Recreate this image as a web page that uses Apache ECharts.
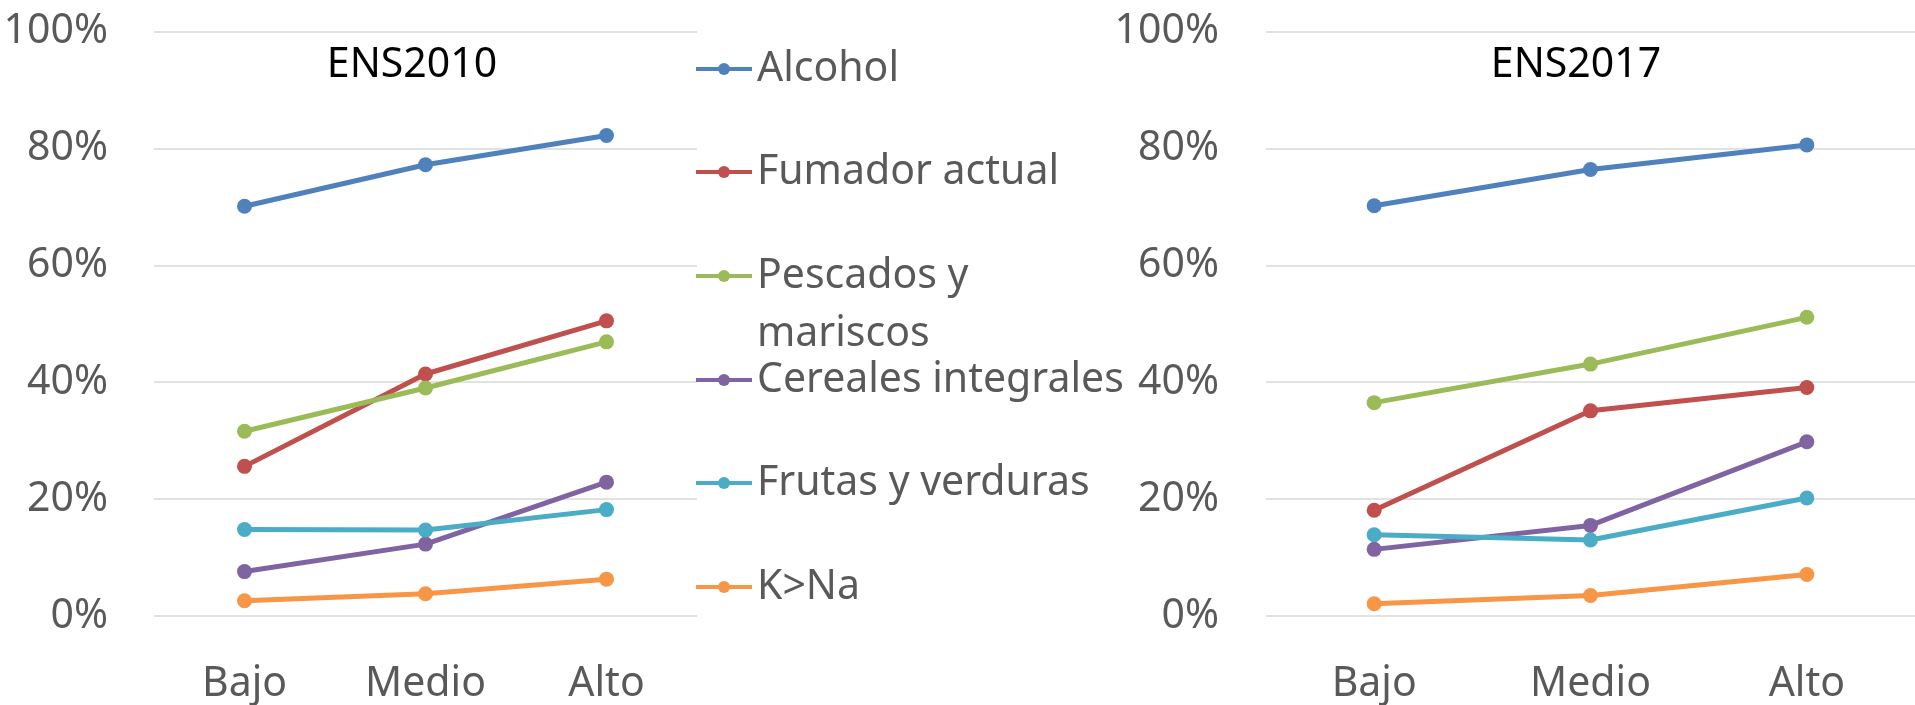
<!DOCTYPE html>
<html><head><meta charset="utf-8">
<script src="https://cdn.jsdelivr.net/npm/echarts@6/dist/echarts.min.js"></script>
<style>html,body{margin:0;padding:0;background:#fff}#c{width:1915px;height:705px}</style>
</head><body><div id="c"></div>
<script>
// ---- data ----
var categories = ['Bajo', 'Medio', 'Alto'];
var seriesNames = ['Alcohol', 'Fumador actual', 'Pescados y mariscos', 'Cereales integrales', 'Frutas y verduras', 'K>Na'];
var panelTitles = ['ENS2010', 'ENS2017'];
var yTicks = [0, 20, 40, 60, 80, 100];

var alcohol2010   = [70.1, 77.2, 82.2];
var fumador2010   = [25.6, 41.4, 50.5];
var pescados2010  = [31.6, 39.0, 46.9];
var cereales2010  = [7.6, 12.3, 22.9];
var frutas2010    = [14.8, 14.7, 18.2];
var kna2010       = [2.6, 3.8, 6.3];

var alcohol2017   = [70.2, 76.4, 80.6];
var fumador2017   = [18.1, 35.1, 39.1];
var pescados2017  = [36.5, 43.1, 51.1];
var cereales2017  = [11.4, 15.5, 29.8];
var frutas2017    = [13.9, 13.0, 20.2];
var kna2017       = [2.1, 3.5, 7.1];

// ---- styling ----
var colors = ['#4F81BD', '#C0504D', '#9BBB59', '#8064A2', '#4BACC6', '#F79646'];
var FONT = 'Noto Sans';
var values2010 = [alcohol2010, fumador2010, pescados2010, cereales2010, frutas2010, kna2010];
var values2017 = [alcohol2017, fumador2017, pescados2017, cereales2017, frutas2017, kna2017];
var legendTops = [47.5, 150.5, 189, 358.5, 461.5, 565.5];

var chart = echarts.init(document.getElementById('c'), null, {renderer: 'canvas'});

function xAx(gi) {
  return {
    type: 'category', gridIndex: gi, data: categories, boundaryGap: true,
    axisLine: {show: false}, axisTick: {show: false},
    axisLabel: {fontFamily: FONT, fontSize: 41, color: '#595959', margin: 48}
  };
}
function yAx(gi, margin) {
  return {
    type: 'value', gridIndex: gi, min: yTicks[0], max: yTicks[yTicks.length - 1], interval: yTicks[1] - yTicks[0],
    axisLine: {show: false}, axisTick: {show: false},
    splitLine: {lineStyle: {color: '#D9D9D9', width: 1.5}},
    axisLabel: {fontFamily: FONT, fontSize: 41, color: '#595959', margin: margin, formatter: '{value}%'}
  };
}

var series = [];
[values2010, values2017].forEach(function (vals, gi) {
  seriesNames.forEach(function (n, i) {
    series.push({
      type: 'line', name: n, xAxisIndex: gi, yAxisIndex: gi, data: vals[i],
      symbol: 'circle', symbolSize: 15, showSymbol: true,
      lineStyle: {width: 5, color: colors[i]},
      itemStyle: {color: colors[i]},
      emphasis: {disabled: true}
    });
  });
});

var legends = seriesNames.map(function (n, i) {
  var isWrap = n === 'Pescados y mariscos';
  return {
    orient: 'vertical', left: 694, top: legendTops[i], padding: 0,
    data: [n], itemWidth: 56, itemHeight: 15, itemGap: 0,
    lineStyle: {width: 4},
    formatter: function (name) { return name === 'Pescados y mariscos' ? '\nPescados y\nmariscos' : name; },
    textStyle: isWrap
      ? {fontFamily: FONT, fontSize: 41, color: '#595959', lineHeight: 58}
      : {fontFamily: FONT, fontSize: 41, color: '#595959', lineHeight: 43}
  };
});

chart.setOption({
  animation: false,
  backgroundColor: '#fff',
  grid: [
    {left: 154, top: 31.5, width: 543, height: 587.5},
    {left: 1266, top: 31.5, width: 649, height: 587.5}
  ],
  xAxis: [xAx(0), xAx(1)],
  yAxis: [yAx(0, 46), yAx(1, 47)],
  legend: legends,
  graphic: [
    {type: 'text', x: 412, y: 65, style: {text: panelTitles[0], fontFamily: FONT, fontSize: 41, fill: '#000', textAlign: 'center', textVerticalAlign: 'middle'}},
    {type: 'text', x: 1576, y: 65, style: {text: panelTitles[1], fontFamily: FONT, fontSize: 41, fill: '#000', textAlign: 'center', textVerticalAlign: 'middle'}}
  ],
  series: series
});
</script></body></html>
